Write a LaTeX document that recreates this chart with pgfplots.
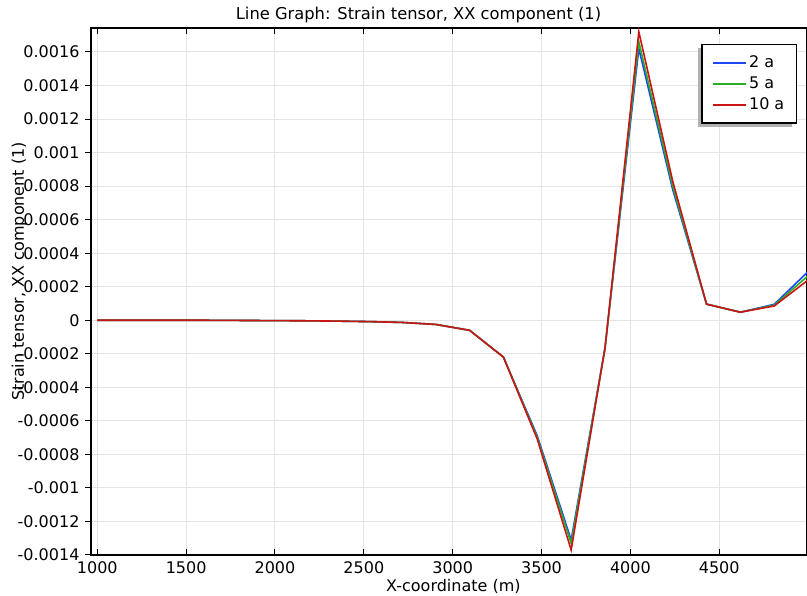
\documentclass[border=0pt]{standalone}
\usepackage{fontspec}
\setmainfont{DejaVu Sans}
\usepackage{pgfplots}
\pgfplotsset{compat=1.18}
\usetikzlibrary{shadows}
\definecolor{cblue}{RGB}{30,70,245}
\definecolor{cgreen}{RGB}{40,175,40}
\definecolor{cred}{RGB}{205,20,20}
\definecolor{cgrid}{RGB}{228,228,228}
\pgfplotstableread{
x b g r
1000 0 0 0
1190.5 0 0 0
1381 0 0 0
1571.4 0 0 0
1761.9 -0.000001 -0.000001 -0.000001
1952.4 -0.000002 -0.000002 -0.000002
2142.9 -0.000003 -0.000003 -0.000003
2333.3 -0.000005 -0.000005 -0.000005
2523.8 -0.000008 -0.000008 -0.000008
2714.3 -0.000013 -0.000013 -0.000013
2904.8 -0.000025 -0.000025 -0.000025
3095.2 -0.00006 -0.00006 -0.00006
3285.7 -0.00022 -0.00022 -0.00022
3476.2 -0.00069 -0.0007 -0.00071
3666.7 -0.00131 -0.00133 -0.00137
3857.1 -0.000167 -0.000167 -0.000167
4047.6 0.00162 0.00166 0.00172
4238.1 0.00078 0.0008 0.00083
4428.6 0.000096 0.000096 0.000096
4619 0.000048 0.000048 0.000048
4809.5 0.000095 0.00009 0.000085
5000 0.00029 0.000265 0.00024
}\datatable
\begin{document}
\fontsize{16}{19}\selectfont
\begin{tikzpicture}[x=1pt,y=1pt]
\begin{axis}[
  at={(0,0)}, anchor=south west,
  scale only axis, width=716pt, height=527pt,
  xmin=964.5, xmax=4994, ymin=-0.0014, ymax=0.001743,
  xtick={1000,1500,2000,2500,3000,3500,4000,4500},
  xticklabels={1000,1500,2000,2500,3000,3500,4000,4500},
  ytick={-0.0014,-0.0012,-0.001,-0.0008,-0.0006,-0.0004,-0.0002,0,0.0002,0.0004,0.0006,0.0008,0.001,0.0012,0.0014,0.0016},
  yticklabels={-0.0014,-0.0012,-0.001,-0.0008,-0.0006,-0.0004,-0.0002,0,0.0002,0.0004,0.0006,0.0008,0.001,0.0012,0.0014,0.0016},
  scaled y ticks=false,
  xtick pos=both, ytick pos=left,
  xtick align=inside, ytick align=outside,
  major tick length=6pt,
  tick style={black, line width=1pt},
  axis line style={black, line width=1.3pt},
  grid=major,
  major grid style={cgrid, line width=1pt},
  tick label style={font=\fontsize{16}{19}\selectfont},
  xticklabel style={yshift=-1pt},
  title={Line Graph: Strain tensor, XX component (1)},
  title style={at={(axis description cs:0.2021,1.004)}, anchor=base west, inner sep=0pt, font=\fontsize{16.3}{19}\selectfont},
  xlabel={X-coordinate (m)},
  xlabel style={at={(axis description cs:0.412,-0.0696)}, anchor=base west, inner sep=0pt, font=\fontsize{16}{19}\selectfont},
  ylabel={Strain tensor, XX component (1)},
  ylabel style={at={(axis description cs:-0.0936,0.292)}, anchor=base west, inner sep=0pt, font=\fontsize{16}{19}\selectfont},
  legend style={at={(axis description cs:0.986,0.970)}, anchor=north east,
    draw=black, line width=1.3pt, fill=white,
    drop shadow={shadow xshift=-4pt, shadow yshift=-4pt, fill=gray!60, draw=none, opacity=1},
    font=\fontsize{16}{19}\selectfont, row sep=3pt, inner xsep=10pt, inner ysep=9pt},
  legend cell align=left,
  legend image code/.code={\draw[#1, line width=2pt] (0pt,0pt) -- (33pt,0pt);},
  clip=true,
]
\addplot[cblue, line width=1.6pt] table[x=x, y=b] {\datatable};
\addlegendentry{2 a}
\addplot[cgreen, line width=1.6pt] table[x=x, y=g] {\datatable};
\addlegendentry{5 a}
\addplot[cred, line width=1.6pt] table[x=x, y=r] {\datatable};
\addlegendentry{10 a}
\end{axis}
\pgfresetboundingbox
\useasboundingbox (-91,-41) rectangle (716,555);
\end{tikzpicture}
\end{document}
